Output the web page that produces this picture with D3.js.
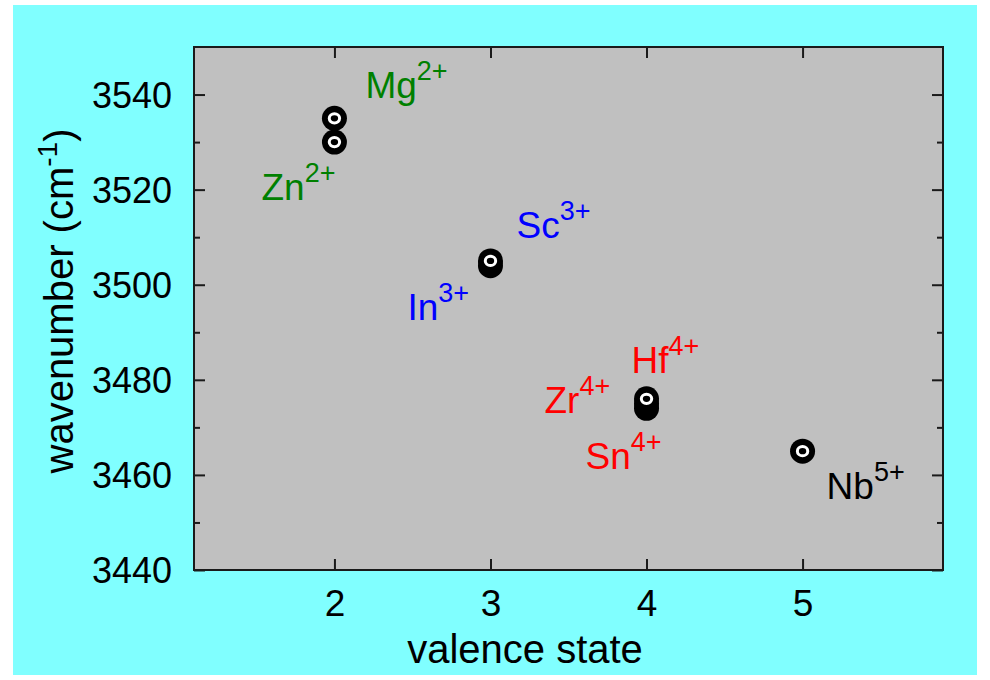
<!DOCTYPE html>
<html>
<head>
<meta charset="utf-8">
<script src="https://cdn.jsdelivr.net/npm/d3@7"></script>
<style>
  html, body { margin: 0; padding: 0; background: #ffffff; }
  svg { display: block; }
  text { font-family: "Liberation Sans", Arial, sans-serif; }
</style>
</head>
<body>
<svg id="chart" width="990" height="680"></svg>
<script>
// Dopant ions: valence state vs. OH stretching wavenumber
const ions      = ["Zn", "Mg", "In", "Sc", "Sn", "Zr", "Hf", "Nb"];
const charges   = ["2+", "2+", "3+", "3+", "4+", "4+", "4+", "5+"];
const valence   = [2, 2, 3, 3, 4, 4, 4, 5];
const wavenum   = [3530, 3535, 3504, 3505, 3474, 3475, 3476, 3465];
const ionColors = ["#008000", "#008000", "#0000ff", "#0000ff", "#ff0000", "#ff0000", "#ff0000", "#000000"];

// Label offsets (px) from each marker
const labelDx = [-73, 31, -83, 26, -61, -102, -15, 24];
const labelDy = [58, -20, 54, -23, 61, 9, -26, 48];

const xTicks = [2, 3, 4, 5];
const yTicks = [3440, 3460, 3480, 3500, 3520, 3540];
const yMinorTicks = [3450, 3470, 3490, 3510, 3530];

const svg = d3.select("#chart");

// Page background
svg.append("rect").attr("x", 13).attr("y", 5).attr("width", 964).attr("height", 670)
  .attr("fill", "#80ffff");

const plot = { left: 194, top: 47, right: 943, bottom: 570 };

const x = d3.scaleLinear().domain([1.1, 5.9]).range([plot.left, plot.right]);
const y = d3.scaleLinear().domain([3440, 3550]).range([plot.bottom, plot.top]);

svg.append("rect")
  .attr("x", plot.left).attr("y", plot.top)
  .attr("width", plot.right - plot.left).attr("height", plot.bottom - plot.top)
  .attr("fill", "#c0c0c0");

const axisColor = "#1a1a1a";
const tickLen = 11, minorLen = 6;

function styleAxis(g) {
  g.select(".domain").remove();
  g.selectAll("line").attr("stroke", axisColor).attr("stroke-width", 2);
}

// Bottom axis (ticks inside)
svg.append("g").attr("transform", `translate(0,${plot.bottom})`)
  .call(d3.axisBottom(x).tickValues(xTicks).tickSize(-tickLen).tickPadding(0).tickFormat(d3.format("d")))
  .call(styleAxis)
  .call(g => g.selectAll("text").attr("font-size", 37).attr("fill", "#000")
    .attr("y", 46).attr("dy", 0));

// Top axis (mirrored ticks, no labels)
svg.append("g").attr("transform", `translate(0,${plot.top})`)
  .call(d3.axisTop(x).tickValues(xTicks).tickSize(-tickLen).tickFormat(""))
  .call(styleAxis);

// Left axis
svg.append("g").attr("transform", `translate(${plot.left},0)`)
  .call(d3.axisLeft(y).tickValues(yTicks).tickSize(-tickLen).tickPadding(22).tickFormat(d3.format("d")))
  .call(styleAxis)
  .call(g => g.selectAll("text").attr("font-size", 36).attr("fill", "#000").attr("dy", "0.35em"));
svg.append("g").attr("transform", `translate(${plot.left},0)`)
  .call(d3.axisLeft(y).tickValues(yMinorTicks).tickSize(-minorLen).tickFormat(""))
  .call(styleAxis);

// Right axis (mirrored ticks)
svg.append("g").attr("transform", `translate(${plot.right},0)`)
  .call(d3.axisRight(y).tickValues(yTicks).tickSize(-tickLen).tickFormat(""))
  .call(styleAxis);
svg.append("g").attr("transform", `translate(${plot.right},0)`)
  .call(d3.axisRight(y).tickValues(yMinorTicks).tickSize(-minorLen).tickFormat(""))
  .call(styleAxis);

// Frame
svg.append("rect")
  .attr("x", plot.left).attr("y", plot.top)
  .attr("width", plot.right - plot.left).attr("height", plot.bottom - plot.top)
  .attr("fill", "none").attr("stroke", axisColor).attr("stroke-width", 2);

// Axis titles
svg.append("text").attr("x", 525).attr("y", 663).attr("text-anchor", "middle")
  .attr("font-size", 40).attr("fill", "#000").text("valence state");

const yTitle = svg.append("text")
  .attr("transform", `translate(73,301) rotate(-90)`)
  .attr("text-anchor", "middle").attr("font-size", 40).attr("fill", "#000");
yTitle.append("tspan").text("wavenumber (cm");
yTitle.append("tspan").attr("font-size", 28).attr("dy", -16).text("-1");
yTitle.append("tspan").attr("dy", 16).text(")");

// Markers: black disc with a white ring
const idx = d3.range(ions.length);
const marks = svg.append("g").selectAll("g").data(idx).join("g")
  .attr("transform", i => `translate(${x(valence[i])},${y(wavenum[i])})`);
marks.append("circle").attr("r", 12.5).attr("fill", "#000");
marks.append("ellipse").attr("rx", 5.2).attr("ry", 4.6).attr("fill", "none")
  .attr("stroke", "#fff").attr("stroke-width", 3);

// Ion labels
const labels = svg.append("g").selectAll("text").data(idx).join("text")
  .attr("x", i => x(valence[i]) + labelDx[i])
  .attr("y", i => y(wavenum[i]) + labelDy[i])
  .attr("font-size", 37)
  .attr("fill", i => ionColors[i]);
labels.append("tspan").text(i => ions[i]);
labels.append("tspan").attr("font-size", 27).attr("dy", -18).text(i => charges[i]);
</script>
</body>
</html>
